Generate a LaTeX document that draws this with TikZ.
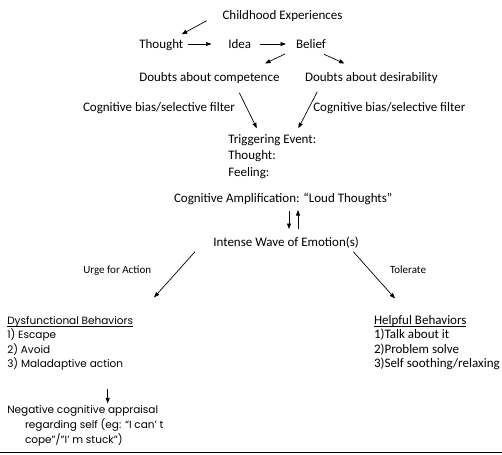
\documentclass[tikz,border=0pt]{standalone}
\usepackage{fontspec}
\setmainfont{Carlito}
\newfontfamily\gothic{Poppins}
\usetikzlibrary{arrows.meta,calc}
\begin{document}
\begin{tikzpicture}[x=1pt,y=-1pt,
  every node/.style={inner sep=0pt,outer sep=0pt},
  txt/.style={anchor=base west,font=\fontsize{13}{15}\selectfont},
  small/.style={anchor=base west,font=\fontsize{11}{13}\selectfont},
  goth/.style={anchor=base west,font=\gothic\fontsize{10.5}{14}\selectfont},
  arr/.style={-{Triangle[length=5.5pt,width=4pt]},line width=0.7pt},
  uline/.style={line width=0.6pt}]
\useasboundingbox (0,0) rectangle (502,454);

% nodes
\node[txt] (child) at (222.5,19.5) {Childhood Experiences};
\node[txt] (thought) at (139.3,48.3) {Thought};
\node[txt] (idea) at (228.3,48.3) {Idea};
\node[txt] (belief) at (296,48.3) {Belief};
\node[txt] (dcomp) at (139.3,81.7) {Doubts about competence};
\node[txt] (ddes) at (305,81.7) {Doubts about desirability};
\node[txt,anchor=base east] (biasl) at (235,111.5) {Cognitive bias/selective filter};
\node[txt] (biasr) at (313.3,111.5) {Cognitive bias/selective filter};
\node[txt] (trig) at (228.3,144) {Triggering Event:};
\node[txt] (trigt) at (228.3,160) {Thought:};
\node[txt] (trigf) at (228.3,176) {Feeling:};
\node[txt] (amp) at (174,202.7) {Cognitive Amplification: “Loud Thoughts”};
\node[txt] (wave) at (213.3,246.7) {Intense Wave of Emotion(s)};
\node[small] (urge) at (83.3,273.3) {Urge for Action};
\node[small] (tol) at (390,273.3) {Tolerate};
\node[goth] (dys) at (7.3,324) {Dysfunctional Behaviors};
\node[goth] (d1) at (7.3,338.5) {1) Escape};
\node[goth] (d2) at (7.3,353) {2) Avoid};
\node[goth] (d3) at (7.3,367.5) {3) Maladaptive action};
\node[txt] (help) at (374,324) {Helpful Behaviors};
\node[txt] (h1) at (374,338.5) {1)Talk about it};
\node[txt] (h2) at (374,353) {2)Problem solve};
\node[txt] (h3) at (374,367.5) {3)Self soothing/relaxing};
\node[goth] (neg1) at (7.3,413) {Negative cognitive appraisal};
\node[goth] (neg2) at (25,428) {regarding self (eg: “I can’ t};
\node[goth] (neg3) at (25,443) {cope”/”I’ m stuck”)};

% underlines
\draw[uline] ($(dys.base west)+(0,2.5)$) -- ($(dys.base east)+(0,2.5)$);
\draw[uline] ($(help.base west)+(0,2.5)$) -- ($(help.base east)+(0,2.5)$);

% arrow end coordinates
\coordinate (a1s) at (206.7,20.7); \coordinate (a1e) at (181.7,34.3);
\coordinate (a2s) at (187.5,44); \coordinate (a2e) at (211.5,44);
\coordinate (a3s) at (259.5,44); \coordinate (a3e) at (286,44);
\coordinate (a4s) at (285,54); \coordinate (a4e) at (265,63.5);
\coordinate (a5s) at (324,54.3); \coordinate (a5e) at (344.5,63.5);
\coordinate (a6s) at (239.3,92.7); \coordinate (a6e) at (256.8,128.3);
\coordinate (a7s) at (317.3,91.7); \coordinate (a7e) at (298.3,128.3);
\coordinate (a8s) at (289,211); \coordinate (a8e) at (289,229);
\coordinate (a9s) at (298,229); \coordinate (a9e) at (298,210);
\coordinate (a10s) at (195,251.7); \coordinate (a10e) at (154,297.5);
\coordinate (a11s) at (353.3,251.7); \coordinate (a11e) at (395,298.5);
\coordinate (a12s) at (107.7,389); \coordinate (a12e) at (107.7,403.3);

\draw[arr] (a1s) -- (a1e);
\draw[arr] (a2s) -- (a2e);
\draw[arr] (a3s) -- (a3e);
\draw[arr] (a4s) -- (a4e);
\draw[arr] (a5s) -- (a5e);
\draw[arr] (a6s) -- (a6e);
\draw[arr] (a7s) -- (a7e);
\draw[arr] (a8s) -- (a8e);
\draw[arr] (a9s) -- (a9e);
\draw[arr] (a10s) -- (a10e);
\draw[arr] (a11s) -- (a11e);
\draw[arr] (a12s) -- (a12e);

% bottom rule
\coordinate (bl) at (0,452.5); \coordinate (br) at (502,452.5);
\draw[line width=1.8pt] (bl) -- (br);
\end{tikzpicture}
\end{document}
